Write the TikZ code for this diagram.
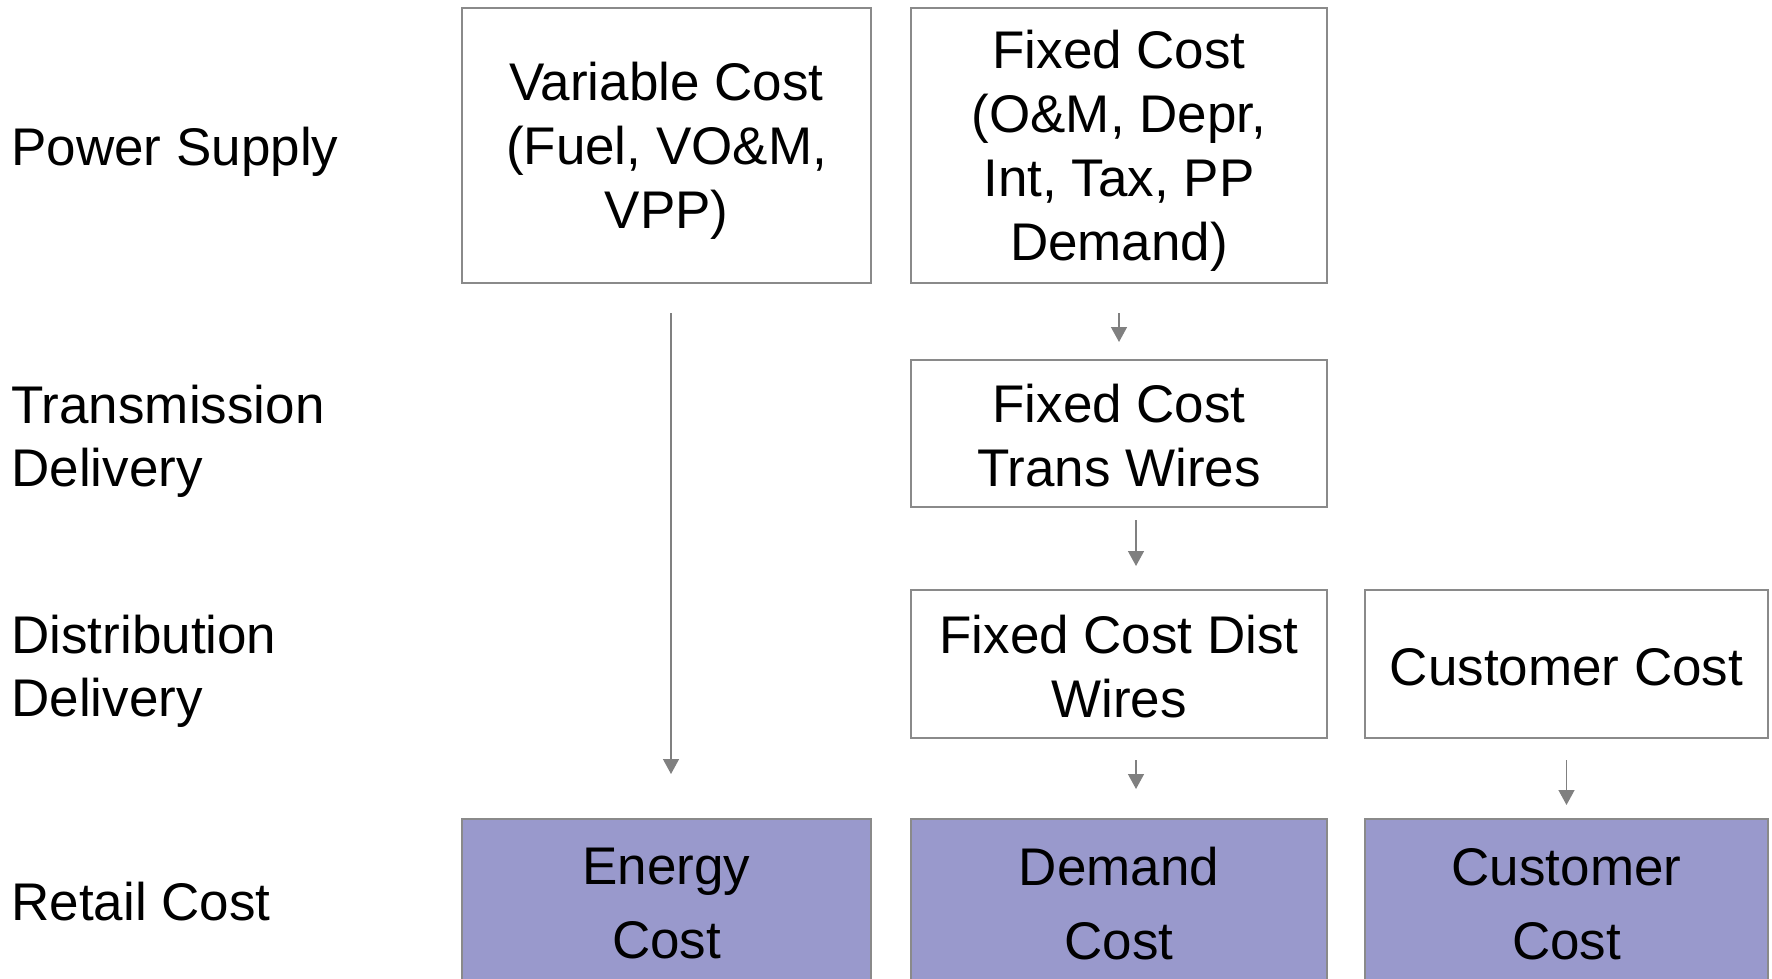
\documentclass[tikz,border=0pt]{standalone}
\usepackage{fontspec}
\setmainfont{Liberation Sans}
\usetikzlibrary{arrows.meta,calc}
\definecolor{boxline}{HTML}{8A8A8A}
\definecolor{arrline}{HTML}{808080}
\definecolor{retailfill}{HTML}{9999CC}
\newcommand\tstrut{\rule{0pt}{24.5pt}}
\newcommand\sstrut{\rule{0pt}{21.5pt}}
\begin{document}
\begin{tikzpicture}[x=0.5pt,y=-0.5pt,
  costbox/.style={draw=boxline,line width=1pt,fill=white,align=center,inner sep=0pt,
    font=\fontsize{26.5}{32}\selectfont},
  retailbox/.style={costbox,fill=retailfill,font=\fontsize{26.5}{37}\selectfont},
  rowlabel/.style={anchor=west,align=left,inner sep=0pt,font=\fontsize{26.5}{31.5}\selectfont},
  arr/.style={draw=arrline,line width=0.7pt,-{Triangle[width=8pt,length=7.5pt]}}]
\useasboundingbox (0,0) rectangle (1772,979);
\clip (0,0) rectangle (1772,979);
% row labels
\node[rowlabel] (lps) at (11,152) {Power Supply};
\node[rowlabel] (ltd) at (11,441) {Transmission\\Delivery};
\node[rowlabel] (ldd) at (11,671.5) {Distribution\\Delivery};
\node[rowlabel] (lrc) at (11,902) {Retail Cost};
% boxes
\node[costbox,minimum width=204.5pt,minimum height=137.5pt] (var) at (666.5,145.5) {\tstrut Variable Cost\\(Fuel, VO\&M,\\VPP)};
\node[costbox,minimum width=208pt,minimum height=137.5pt] (fixed) at (1119,145.5) {\tstrut Fixed Cost\\(O\&M, Depr,\\Int, Tax, PP\\Demand)};
\node[costbox,minimum width=208pt,minimum height=73.5pt] (trans) at (1119,433.5) {\sstrut Fixed Cost\\Trans Wires};
\node[costbox,minimum width=208pt,minimum height=74pt] (dist) at (1119,664) {\sstrut Fixed Cost Dist\\Wires};
\node[costbox,minimum width=201.5pt,minimum height=74pt] (cust) at (1566.5,664) {\sstrut Customer Cost};
\node[retailbox,minimum width=204.5pt,minimum height=85pt] (energy) at (666.5,904) {Energy\\Cost};
\node[retailbox,minimum width=208pt,minimum height=85pt] (demand) at (1119,904) {Demand\\Cost};
\node[retailbox,minimum width=201.5pt,minimum height=85pt] (custr) at (1566.5,904) {Customer\\Cost};
% connectors
\draw[arr] ($(var.south)+(4.5,29)$) -- ($(energy.north)+(4.5,-44)$);
\draw[arr] ($(fixed.south)+(0,29)$) -- ($(trans.north)+(0,-17)$);
\draw[arr] ($(trans.south)+(17,12)$) -- ($(dist.north)+(17,-23)$);
\draw[arr] ($(dist.south)+(17,21)$) -- ($(demand.north)+(17,-29)$);
\draw[arr] ($(cust.south)+(0,21)$) -- ($(custr.north)+(0,-13)$);
\end{tikzpicture}
\end{document}
